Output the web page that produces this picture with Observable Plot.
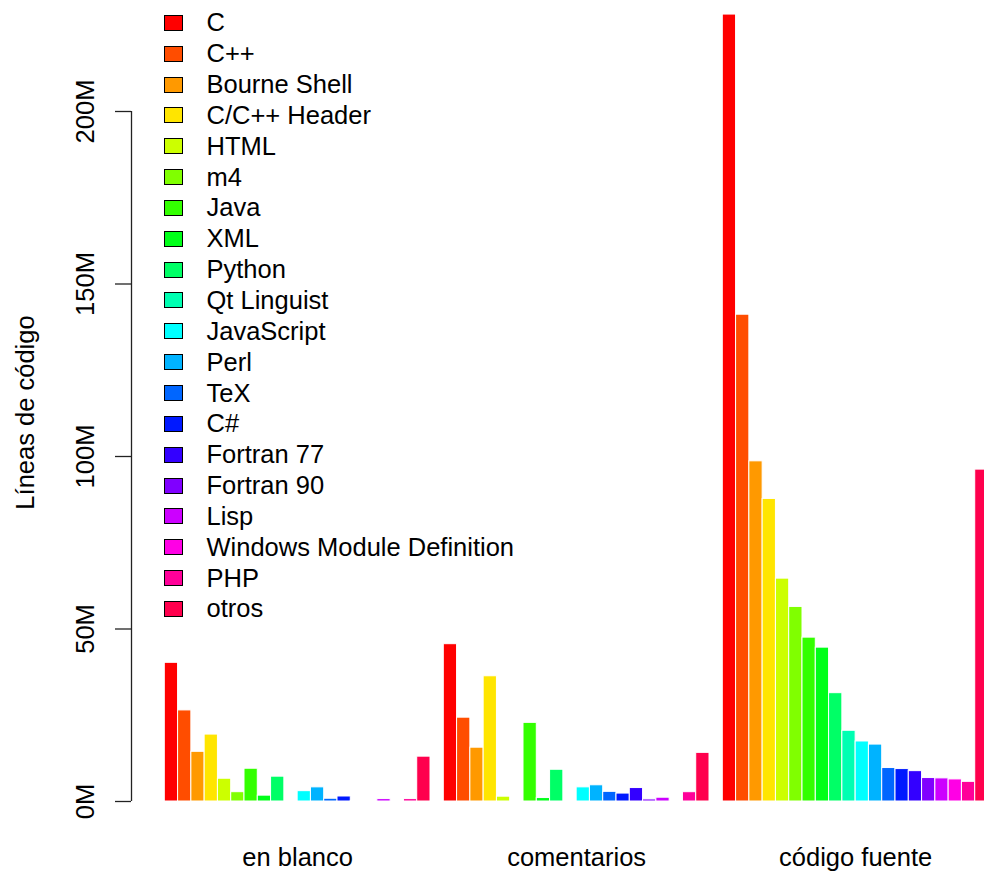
<!DOCTYPE html>
<html><head><meta charset="utf-8">
<script src="https://cdn.jsdelivr.net/npm/d3@7"></script>
<script src="https://cdn.jsdelivr.net/npm/@observablehq/plot@0.6"></script>
<style>
body{margin:0;background:#fff}
#wrap{position:relative;width:984px;height:871px;font-family:"Liberation Sans",Arial,Helvetica,sans-serif;color:#000;overflow:hidden}
#wrap svg{position:absolute;left:0;top:0}
.item{position:absolute;left:163.5px;height:30px;display:flex;align-items:center;font-size:25.5px;white-space:nowrap}
.sw{width:17px;height:14px;border:1px solid #000;margin-right:24px;flex:none}
</style></head><body><div id="wrap"></div>
<script>
const langs = ["C","C++","Bourne Shell","C/C++ Header","HTML","m4","Java","XML","Python","Qt Linguist","JavaScript","Perl","TeX","C#","Fortran 77","Fortran 90","Lisp","Windows Module Definition","PHP","otros"];
const groups = ["en blanco","comentarios","código fuente"];
// millions of lines
const blank    = [40.2, 26.4, 14.4, 19.4, 6.6, 2.7, 9.5, 1.7, 7.2, 0, 3.0, 4.1, 0.8, 1.45, 0.2, 0, 0.7, 0, 0.7, 13.0];
const comments = [45.6, 24.3, 15.6, 36.3, 1.4, 0.2, 22.8, 1.0, 9.2, 0, 4.1, 4.7, 2.8, 2.3, 3.9, 0.6, 1.1, 0, 2.7, 14.1];
const code     = [228.1, 141.1, 98.6, 87.7, 64.6, 56.4, 47.5, 44.6, 31.4, 20.5, 17.4, 16.5, 9.7, 9.4, 8.8, 6.8, 6.7, 6.4, 5.7, 96.2];
const colors = ["#FF0000","#FF4D00","#FF9900","#FFE500","#CCFF00","#80FF00","#33FF00","#00FF19","#00FF66","#00FFB2","#00FFFF","#00B3FF","#0066FF","#0019FF","#3300FF","#8000FF","#CC00FF","#FF00E5","#FF0099","#FF004D"];
const yTicks = [0, 50, 100, 150, 200];

const series = [blank, comments, code];
const key = (gi, l) => gi + "|" + l;
const data = groups.flatMap((g, gi) => langs.map((l, li) => ({group: g, lang: l, key: key(gi, l), value: series[gi][li]})));
const xDomain = groups.flatMap((g, gi) => [key(gi, ""), ...langs.map(l => key(gi, l))]);

const chart = Plot.plot({
  width: 984, height: 871,
  marginLeft: 131, marginRight: 0, marginTop: 23, marginBottom: 70,
  style: {fontFamily: '"Liberation Sans", Arial, Helvetica, sans-serif', fontSize: "25.5px", color: "#000", background: "white", overflow: "visible"},
  x: {domain: xDomain, range: [151, 988], padding: 0, round: false, axis: null},
  y: {domain: [0, 200], range: [801, 111]},
  color: {domain: langs, range: colors},
  marks: [
    Plot.barY(data, {x: "key", y: "value", fill: "lang", stroke: "white", strokeWidth: 1}),
    Plot.axisY({ticks: yTicks, tickSize: 16, tickFormat: () => "", label: null, stroke: "#222", strokeWidth: 1.3}),
    Plot.axisY({ticks: yTicks, tickSize: 0, tickPadding: 46, tickFormat: d => d + "M", rotate: -90, textAnchor: "middle", label: null, fontSize: 25.5, fill: "#000"}),
    Plot.ruleX([key(0, "")], {x: d => d, y1: 0, y2: 200, dx: -26.64, stroke: "#222", strokeWidth: 1.3}),
    Plot.text(groups, {x: (d, i) => key(i, "Qt Linguist"), y: () => 0, text: d => d, dx: 6.64, dy: 56, fontSize: 25.5, fill: "#000"}),
    Plot.text(["Líneas de código"], {frameAnchor: "left", textAnchor: "middle", text: d => d, rotate: -90, dx: -106, fontSize: 25.5, fill: "#000"})
  ]
});
const wrap = document.getElementById("wrap");
wrap.appendChild(chart);

const legend = d3.select(wrap).append("div").attr("id", "legend");
langs.forEach((l, i) => {
  const cy = 22.8 + 30.85 * i;
  const it = legend.append("div").attr("class", "item").style("top", (cy - 15) + "px");
  it.append("div").attr("class", "sw").style("background", colors[i]);
  it.append("span").text(l);
});
</script></body></html>
